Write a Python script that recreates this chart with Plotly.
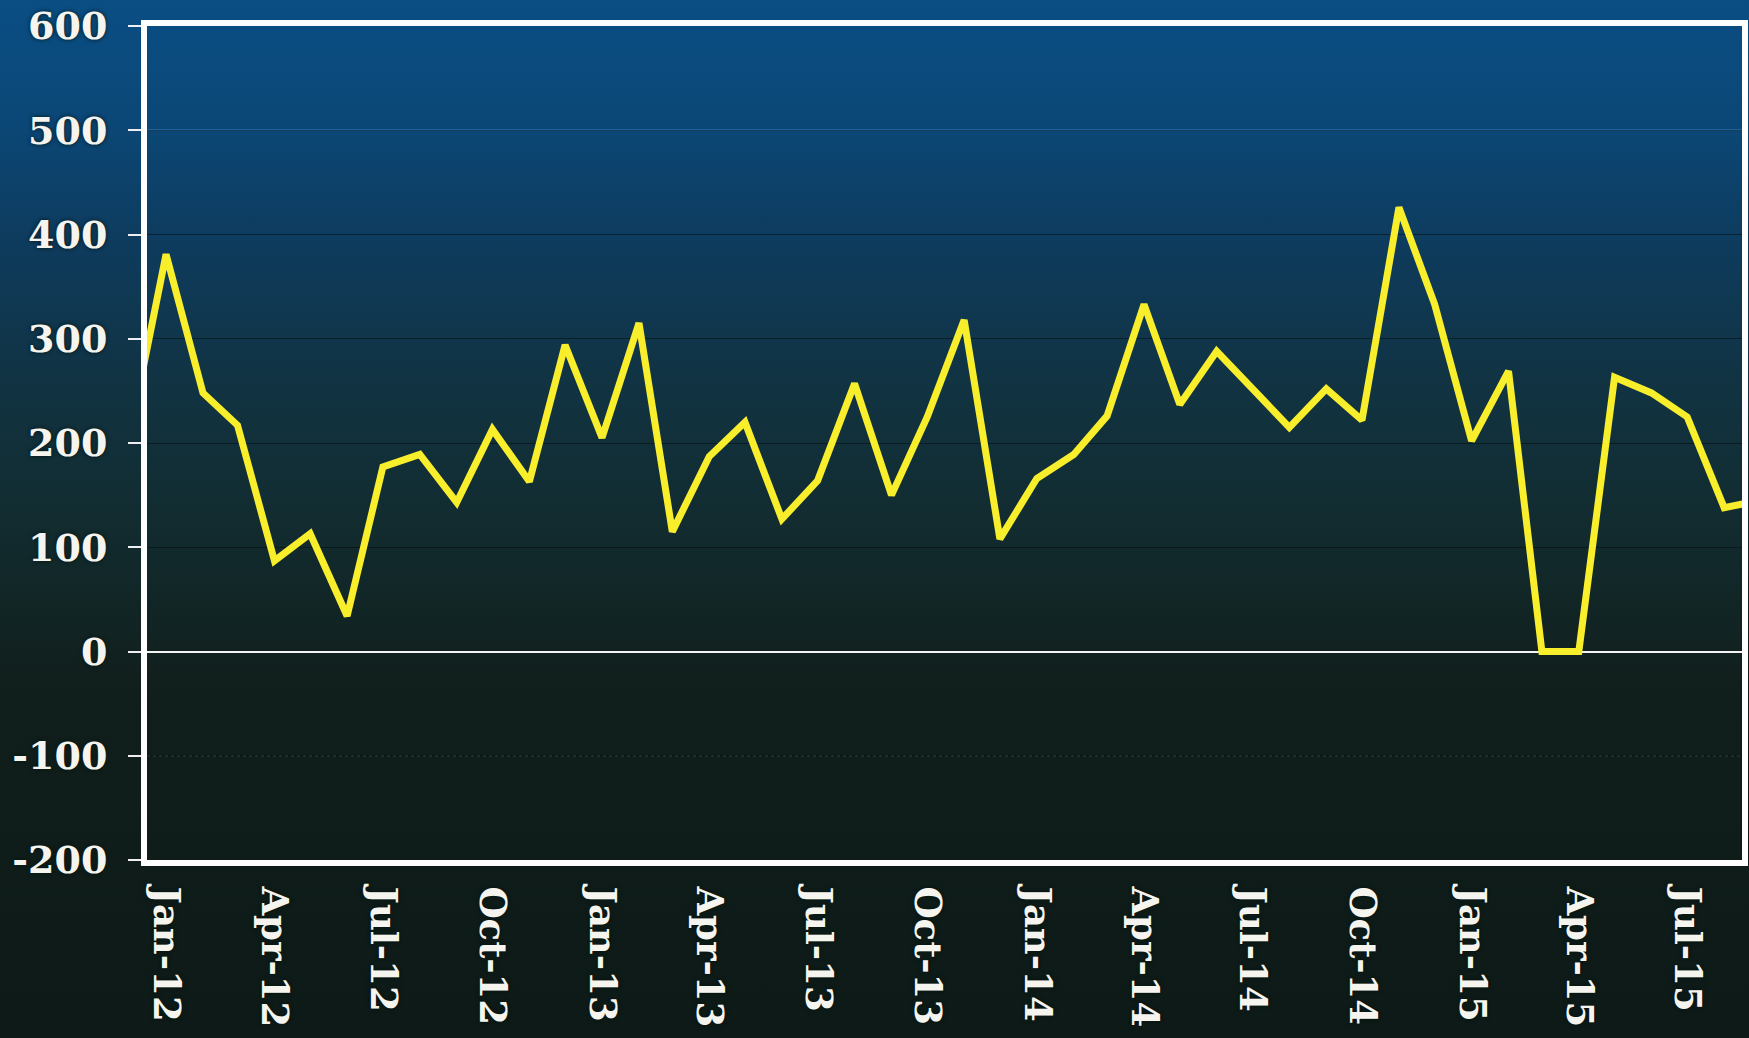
import base64
import plotly.graph_objects as go

# ---- data ----
months = [
    "2011-12-01", "2012-01-01", "2012-02-01", "2012-03-01", "2012-04-01", "2012-05-01",
    "2012-06-01", "2012-07-01", "2012-08-01", "2012-09-01", "2012-10-01", "2012-11-01",
    "2012-12-01", "2013-01-01", "2013-02-01", "2013-03-01", "2013-04-01", "2013-05-01",
    "2013-06-01", "2013-07-01", "2013-08-01", "2013-09-01", "2013-10-01", "2013-11-01",
    "2013-12-01", "2014-01-01", "2014-02-01", "2014-03-01", "2014-04-01", "2014-05-01",
    "2014-06-01", "2014-07-01", "2014-08-01", "2014-09-01", "2014-10-01", "2014-11-01",
    "2014-12-01", "2015-01-01", "2015-02-01", "2015-03-01", "2015-04-01", "2015-05-01",
    "2015-06-01", "2015-07-01", "2015-08-01", "2015-09-01",
]
values = [
    205, 381, 248, 217, 87, 113,
    34, 177, 189, 143, 213, 163,
    294, 205, 315, 115, 187, 220,
    127, 164, 257, 150, 225, 318,
    108, 166, 189, 226, 333, 237,
    288, 251, 215, 252, 222, 426,
    333, 202, 269, 0, 0, 263,
    248, 225, 138, 145,
]
y_ticks = [-200, -100, 0, 100, 200, 300, 400, 500, 600]

# ---- layout geometry ----
W, H = 1749, 1038
L, R, T, B = 147, 7, 26, 178
pw, ph = W - L - R, H - T - B

# vertical background gradient as an SVG image
stops = [
    (0.00, "#0a4e84"),
    (0.12, "#0b4776"),
    (0.24, "#0e3b5c"),
    (0.37, "#113342"),
    (0.50, "#122c30"),
    (0.66, "#111f1c"),
    (1.00, "#0d1a17"),
]
svg = (
    '<svg xmlns="http://www.w3.org/2000/svg" width="100" height="1000" preserveAspectRatio="none">'
    '<defs><linearGradient id="g" x1="0" y1="0" x2="0" y2="1">'
    + "".join(f'<stop offset="{o}" stop-color="{c}"/>' for o, c in stops)
    + '</linearGradient></defs><rect width="100" height="1000" fill="url(#g)"/></svg>'
)
bg_src = "data:image/svg+xml;base64," + base64.b64encode(svg.encode()).decode()

base_font = dict(
    family="DejaVu Serif, Liberation Serif, serif",
    color="#f6f4ef",
    weight="bold",
    shadow="0px 0px 4px #04140f",
)
y_font = dict(base_font, size=38)
x_font = dict(base_font, size=37)

fig = go.Figure()
fig.add_trace(
    go.Scatter(
        x=months,
        y=values,
        mode="lines",
        line=dict(color="#f8ee2c", width=7),
        hoverinfo="x+y",
        showlegend=False,
    )
)

fig.update_layout(
    width=W,
    height=H,
    autosize=False,
    margin=dict(l=L, r=R, t=T, b=B, pad=0),
    paper_bgcolor="#0d1a17",
    plot_bgcolor="rgba(0,0,0,0)",
    images=[
        dict(
            source=bg_src,
            xref="paper", yref="paper",
            x=-L / pw, y=1 + T / ph,
            sizex=W / pw, sizey=H / ph,
            xanchor="left", yanchor="top",
            sizing="stretch",
            layer="below",
        )
    ],
    shapes=[
        dict(type="line", xref="paper", yref="y", x0=0, x1=1, y0=500, y1=500,
             line=dict(color="#2e7cc0", width=1.5), layer="below"),
        dict(type="line", xref="paper", yref="y", x0=0, x1=1, y0=-100, y1=-100,
             line=dict(color="rgba(150,170,160,0.45)", width=1, dash="dot"), layer="below"),
    ],
)

fig.update_xaxes(
    type="date",
    range=["2011-12-16", "2015-08-16"],
    tick0="2012-01-01",
    dtick="M3",
    tickformat="%b-%y",
    tickangle=90,
    ticks="",
    tickfont=x_font,
    ticklabelstandoff=13,
    ticklabeloverflow="allow",
    automargin=False,
    showgrid=False,
    showline=True,
    linecolor="#ffffff",
    linewidth=6,
    mirror=True,
    zeroline=False,
)

fig.update_yaxes(
    range=[-200, 600],
    tickvals=y_ticks,
    ticktext=[str(v) for v in y_ticks],
    ticks="outside",
    ticklen=13,
    tickwidth=2,
    tickcolor="#f0eef0",
    tickfont=y_font,
    ticklabelstandoff=13,
    ticklabeloverflow="allow",
    automargin=False,
    showgrid=True,
    gridcolor="rgba(3,12,12,0.55)",
    gridwidth=1,
    zeroline=True,
    zerolinecolor="#f4f4f4",
    zerolinewidth=2,
    showline=True,
    linecolor="#ffffff",
    linewidth=6,
    mirror=True,
)

fig.write_html(
    "out.html",
    config={"displayModeBar": False},
    post_script="document.body.style.margin='0';document.body.style.overflow='hidden';",
)
